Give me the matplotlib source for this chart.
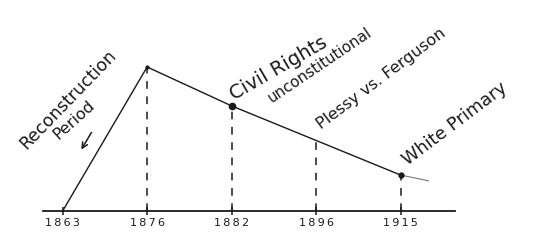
import matplotlib
matplotlib.use("Agg")
import matplotlib.pyplot as plt

# hand drawn timeline: relative level of civil rights over time
years = ["1863", "1876", "1882", "1896", "1915"]
level = [0, 100, 73, 49, 25]
trend_after = 21          # faint continuation past 1915
events = ["Reconstruction", "Civil Rights", "Plessy vs. Ferguson", "White Primary"]
sub_labels = ["Period", "unconstitutional"]

ink = "#1a1a1a"
plt.rcParams["font.family"] = ["DejaVu Sans"]

fig = plt.figure(figsize=(5.4, 2.4), dpi=100)
ax = fig.add_axes([0, 0, 1, 1])
ax.set_xlim(-0.741, 5.650)
ax.set_ylim(-20.1, 146.5)
ax.axis("off")

xs = list(range(len(years)))

# baseline + tick marks
ax.axhline(0, xmin=0.08, xmax=0.843, color=ink, lw=1.3)
ax.plot(xs, [0] * len(xs), ls="none", marker="|", ms=6, mew=1.1, color=ink)
for i, yr in enumerate(years):
    spaced = "\u2009".join(yr)   # handwritten digits sit far apart
    ax.annotate(spaced, (xs[i], 0), xytext=(0, -8.5), textcoords="offset points",
                ha="center", va="center", fontsize=8, color=ink)

# main line
ax.plot(xs, level, color=ink, lw=1.0)
ax.plot([xs[-1], xs[-1] + 0.33], [level[-1], trend_after], color="#777777", lw=0.8)

# dashed drop lines
ax.vlines(xs[1:], 0, level[1:], colors=ink, lw=1.1, linestyles=(0, (5, 5)))

# points
ax.plot(xs[1], level[1], "o", ms=2, color=ink)
ax.plot(xs[2], level[2], "o", ms=4.5, color=ink)
ax.plot(xs[4], level[4], "o", ms=3.5, color=ink)

txt = dict(textcoords="offset points", ha="left", va="baseline",
           rotation_mode="anchor", color=ink)
ax.annotate(events[0], (xs[0], level[0]), xytext=(-26, 44), rotation=46, fontsize=12.5, **txt)
ax.annotate(sub_labels[0], (xs[0], level[0]), xytext=(-3, 51), rotation=42, fontsize=11.5, **txt)
ax.annotate(events[1], (xs[2], level[2]), xytext=(2, 4), rotation=30, fontsize=14, **txt)
ax.annotate(sub_labels[1], (xs[2], level[2]), xytext=(29, 2), rotation=34, fontsize=10.8, **txt)
ax.annotate(events[2], (xs[3], level[3]), xytext=(4, 8), rotation=37, fontsize=11.6, **txt)
ax.annotate(events[3], (xs[4], level[4]), xytext=(5, 7), rotation=37, fontsize=12.8, **txt)

# little arrow under "Period"
ax.annotate("", xy=(0.148, 0.367), xytext=(0.172, 0.458), xycoords="axes fraction",
            arrowprops=dict(arrowstyle="->", color=ink, lw=1.1))

fig.savefig("out.png", dpi=100, facecolor="white")
